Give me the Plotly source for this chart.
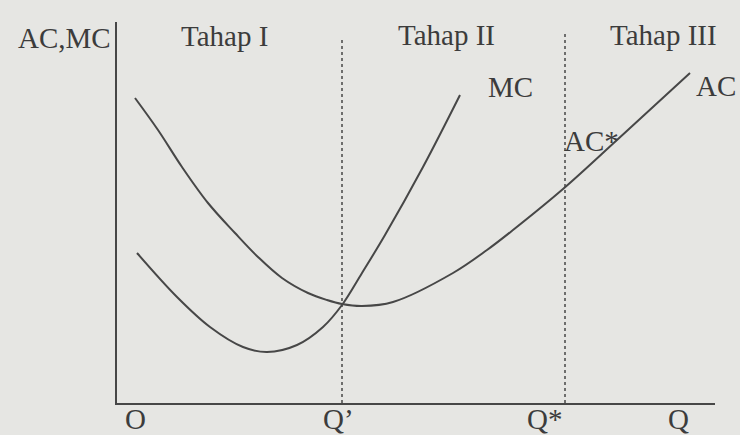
import plotly.graph_objects as go

# Output quantity (Q) and cost values
ac_q = [1.8, 4.1, 6.5, 9.1, 11.8, 14.1, 16.5, 19.1, 21.0, 22.5, 24.5, 27.6, 33.6, 37.0, 39.6, 44.6, 50.0, 57.3]
ac_cost = [30.5, 27.3, 23.6, 20.0, 17.0, 14.6, 12.5, 11.0, 10.3, 9.9, 9.7, 10.1, 13.0, 15.3, 17.3, 21.4, 26.3, 33.0]

mc_q = [2.0, 6.0, 9.3, 12.6, 15.0, 18.0, 20.6, 22.5, 24.5, 26.8, 30.6, 34.3]
mc_cost = [15.0, 10.6, 7.6, 5.6, 5.1, 5.8, 7.6, 9.8, 13.0, 16.8, 23.6, 30.8]

# Stage boundaries on the Q axis
q_prime = 22.5
q_star = 44.8

stage_labels = ["Tahap I", "Tahap II", "Tahap III"]
q_tick_labels = ["O", "Q\u2019", "Q*", "Q"]

INK = "#474747"
TEXT = "#3c3c3c"
BG = "#e6e6e3"
FONT = "Liberation Serif, Times New Roman, serif"

fig = go.Figure()

fig.add_trace(go.Scatter(x=ac_q, y=ac_cost, mode="lines", name="AC",
                         line=dict(color=INK, width=2, shape="spline", smoothing=1.0)))
fig.add_trace(go.Scatter(x=mc_q, y=mc_cost, mode="lines", name="MC",
                         line=dict(color=INK, width=2, shape="spline", smoothing=1.0)))

# Dotted stage dividers
fig.add_trace(go.Scatter(x=[q_prime, q_prime], y=[0, 36.3], mode="lines",
                         line=dict(color=INK, width=1.5, dash="dot")))
fig.add_trace(go.Scatter(x=[q_star, q_star], y=[0, 37.1], mode="lines",
                         line=dict(color=INK, width=1.5, dash="dot")))

W, H = 740, 435
L, R, T, B = 117, 25, 22, 32
pw, ph = W - L - R, H - T - B


def px(x):
    return (x - L) / pw


def py(y):
    return (H - B - y) / ph


labels = [
    ("AC,MC", 64, 38),
    (stage_labels[0], 224, 36),
    (stage_labels[1], 446, 35),
    (stage_labels[2], 663, 35),
    ("MC", 510, 87),
    ("AC", 716, 86),
    ("AC*", 591, 141),
    (q_tick_labels[0], 135, 419),
    (q_tick_labels[1], 338, 419),
    (q_tick_labels[2], 544, 419),
    (q_tick_labels[3], 678, 419),
]
annotations = [
    dict(text=t, x=px(x), y=py(y), xref="paper", yref="paper",
         xanchor="center", yanchor="middle", showarrow=False,
         font=dict(family=FONT, size=29, color=TEXT))
    for t, x, y in labels
]

fig.update_layout(
    width=W, height=H,
    margin=dict(l=L, r=R, t=T, b=B, pad=0),
    paper_bgcolor=BG, plot_bgcolor=BG,
    showlegend=False,
    annotations=annotations,
    xaxis=dict(range=[0, 59.8], showgrid=False, zeroline=False, showticklabels=False,
               ticks="", showline=True, linecolor=INK, linewidth=2),
    yaxis=dict(range=[0, 38.1], showgrid=False, zeroline=False, showticklabels=False,
               ticks="", showline=True, linecolor=INK, linewidth=2),
)

fig.write_html("out.html")
